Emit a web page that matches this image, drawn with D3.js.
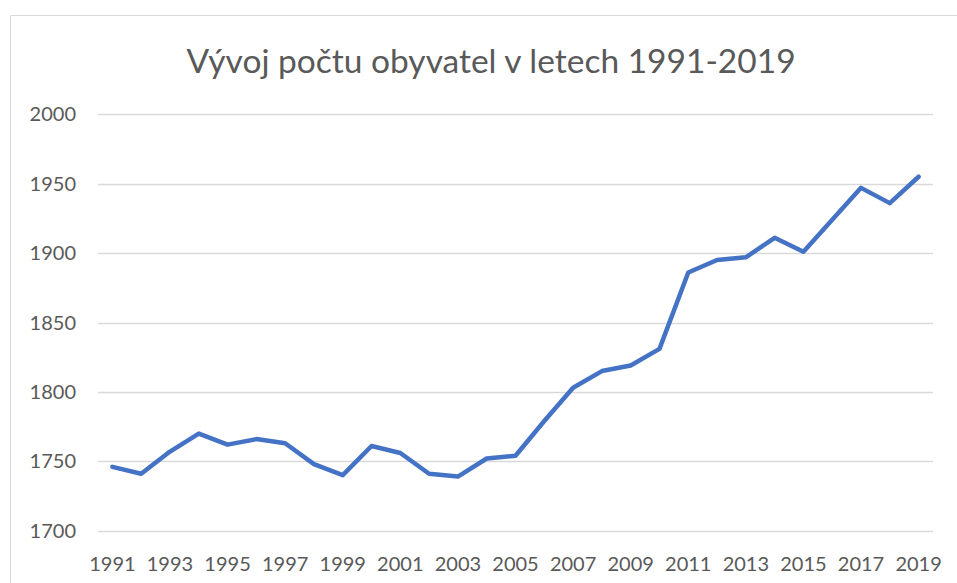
<!DOCTYPE html>
<html>
<head>
<meta charset="utf-8">
<script src="https://cdn.jsdelivr.net/npm/d3@7"></script>
<style>
  body { margin: 0; background: #fff; }
  text { font-family: Lato, "Open Sans", sans-serif; fill: #595959; }
</style>
</head>
<body>
<div id="chart"></div>
<script>
var years = d3.range(1991, 2020);
var population = [1746, 1741, 1757, 1770, 1762, 1766, 1763, 1748, 1740, 1761,
  1756, 1741, 1739, 1752, 1754, 1779, 1803, 1815, 1819, 1831,
  1886, 1895, 1897, 1911, 1901, 1924, 1947, 1936, 1955];
var yTicks = [1700, 1750, 1800, 1850, 1900, 1950, 2000];
var title = 'Vývoj počtu obyvatel v letech 1991-2019';

var width = 957, height = 583;
var svg = d3.select('#chart').append('svg')
  .attr('width', width)
  .attr('height', height);

// chart frame
svg.append('path')
  .attr('d', 'M10.5,' + height + 'V15.5H' + width)
  .attr('fill', 'none')
  .attr('stroke', '#d9d9d9')
  .attr('stroke-width', 1);

var x = d3.scaleBand().domain(years).range([98, 933]);
var y = d3.scaleLinear().domain([1700, 2000]).range([530.7, 114.3]);

// grid
svg.append('g')
  .selectAll('line')
  .data(yTicks)
  .enter()
  .append('line')
  .attr('x1', 98)
  .attr('x2', 933)
  .attr('y1', function (d) { return Math.round(y(d)) + 0.5; })
  .attr('y2', function (d) { return Math.round(y(d)) + 0.5; })
  .attr('stroke', '#d9d9d9')
  .attr('stroke-width', 1.5);

// y labels
svg.append('g')
  .selectAll('text')
  .data(yTicks)
  .enter()
  .append('text')
  .attr('x', 76)
  .attr('y', function (d) { return y(d); })
  .attr('dy', '0.35em')
  .attr('text-anchor', 'end')
  .attr('font-size', '20px')
  .text(function (d) { return d; });

// x labels, every other year
svg.append('g')
  .selectAll('text')
  .data(years.filter(function (d, i) { return i % 2 === 0; }))
  .enter()
  .append('text')
  .attr('x', function (d) { return x(d) + x.bandwidth() / 2; })
  .attr('y', 571)
  .attr('text-anchor', 'middle')
  .attr('font-size', '20px')
  .text(function (d) { return d; });

var line = d3.line()
  .x(function (d, i) { return x(years[i]) + x.bandwidth() / 2; })
  .y(function (d) { return y(d); });

svg.append('path')
  .datum(population)
  .attr('d', line)
  .attr('fill', 'none')
  .attr('stroke', '#4472c4')
  .attr('stroke-width', 4.5)
  .attr('stroke-linejoin', 'round')
  .attr('stroke-linecap', 'round');

svg.append('text')
  .attr('x', 491)
  .attr('y', 73)
  .attr('text-anchor', 'middle')
  .attr('font-size', '33.5px')
  .text(title);
</script>
</body>
</html>
